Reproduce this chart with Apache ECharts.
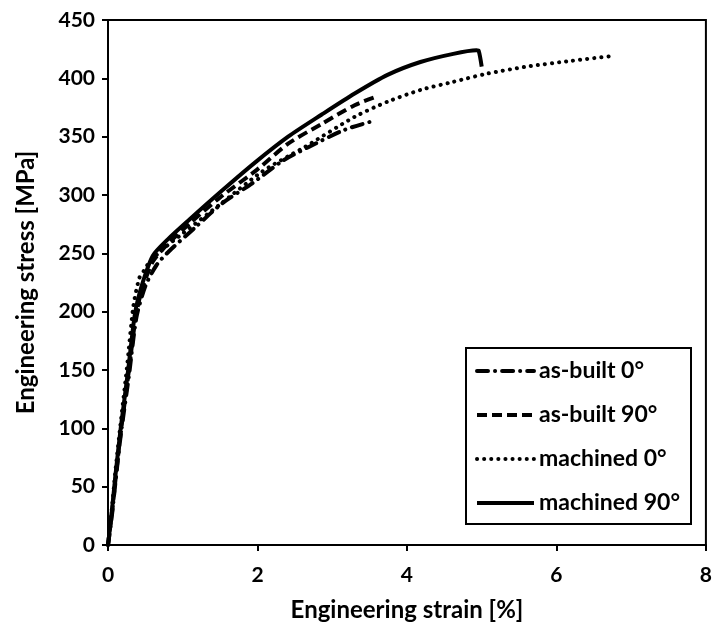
<!DOCTYPE html>
<html>
<head>
<meta charset="utf-8">
<script src="https://cdn.jsdelivr.net/npm/echarts@6/dist/echarts.min.js"></script>
<style>
html, body { margin: 0; background: #fff; }
#main { width: 715px; height: 628px; }
</style>
</head>
<body>
<div id="main"></div>
<script>
// strain in %, stress in MPa
const asBuilt0Strain = [0, 0.05, 0.1, 0.17, 0.28, 0.38, 0.5, 0.65, 0.82, 1.18, 1.53, 1.93, 2.33, 2.68, 3.17, 3.58];
const asBuilt0Stress = [0, 24, 54, 94, 145, 195, 222, 240, 252, 273, 293, 310, 329, 341, 356, 364];

const asBuilt90Strain = [0, 0.05, 0.1, 0.17, 0.27, 0.37, 0.45, 0.6, 0.8, 1.1, 1.5, 2.0, 2.41, 2.86, 3.3, 3.58];
const asBuilt90Stress = [0, 26, 56, 96, 145, 195, 218, 243, 258, 276, 298, 322, 344, 361, 377, 384];

const machined0Strain = [0, 0.05, 0.1, 0.17, 0.25, 0.34, 0.42, 0.49, 0.56, 0.78, 1.0, 1.5, 2.06, 2.46, 2.63, 3.3, 3.74, 4.18, 4.62, 5.07, 5.6, 6.2, 6.73];
const machined0Stress = [0, 30, 64, 105, 150, 205, 229, 236, 243, 256, 267, 292, 320, 335, 341, 367, 380, 390, 397, 404, 410, 415, 419];

const machined90Strain = [0, 0.05, 0.1, 0.17, 0.27, 0.36, 0.45, 0.6, 0.8, 1.09, 1.53, 1.97, 2.41, 2.86, 3.3, 3.74, 4.18, 4.62, 4.93, 4.96, 5.0];
const machined90Stress = [0, 28, 60, 100, 150, 198, 222, 248, 262, 279, 304, 328, 350, 369, 387, 403, 414, 421, 424, 423.5, 410];

const seriesNames = ['as-built 0°', 'as-built 90°', 'machined 0°', 'machined 90°'];

const FONT = 'Lato';
const pairs = (xs, ys) => xs.map((x, i) => [x, ys[i]]);

const chart = echarts.init(document.getElementById('main'));

const tickText = { color: '#000', fontFamily: FONT, fontWeight: 'bold', fontSize: 21 };
const nameText = { color: '#000', fontFamily: FONT, fontWeight: 'bold', fontSize: 24 };

// common bits for the four curves
const curve = (name, xs, ys, lineStyle) => ({
  name: name,
  type: 'line',
  symbol: 'none',
  smooth: 0.25,
  data: pairs(xs, ys),
  lineStyle: Object.assign({ color: '#000', width: 4 }, lineStyle),
  itemStyle: { color: '#000' },
});

const option = {
  animation: false,
  backgroundColor: '#fff',
  grid: {
    left: 108, right: 4, top: 20, bottom: 83,
    show: true, borderColor: '#000', borderWidth: 2,
  },
  xAxis: {
    type: 'value',
    min: 0, max: 8, interval: 2,
    name: 'Engineering strain [%]',
    nameLocation: 'middle',
    nameGap: 53,
    nameTextStyle: nameText,
    axisLine: { lineStyle: { color: '#000', width: 2 } },
    axisTick: { show: true, length: 6, lineStyle: { color: '#000', width: 2 } },
    axisLabel: Object.assign({ margin: 20 }, tickText),
    splitLine: { show: false },
  },
  yAxis: {
    type: 'value',
    min: 0, max: 450, interval: 50,
    name: 'Engineering stress [MPa]',
    nameLocation: 'middle',
    nameGap: 70,
    nameTextStyle: nameText,
    axisLine: { show: true, lineStyle: { color: '#000', width: 2 } },
    axisTick: { show: true, length: 6, lineStyle: { color: '#000', width: 2 } },
    axisLabel: Object.assign({ margin: 13 }, tickText),
    splitLine: { show: false },
  },
  graphic: [{
    type: 'rect',
    z: 3,
    shape: { x: 466, y: 348, width: 225, height: 176 },
    style: { fill: '#fff', stroke: '#000', lineWidth: 2 },
  }],
  legend: {
    z: 5,
    orient: 'vertical',
    left: 466, top: 348,
    padding: [10, 8, 10, 9],
    itemWidth: 57, itemHeight: 14, itemGap: 18,
    itemStyle: { color: 'rgba(0,0,0,0)', opacity: 0, borderWidth: 0 },
    lineStyle: { width: 4 },
    textStyle: { color: '#000', fontFamily: FONT, fontWeight: 'bold', fontSize: 23, lineHeight: 26 },
    data: seriesNames,
  },
  series: [
    curve(seriesNames[0], asBuilt0Strain, asBuilt0Stress, { type: [11, 7, 0.1, 7], cap: 'round' }),
    curve(seriesNames[1], asBuilt90Strain, asBuilt90Stress, { type: [10, 5] }),
    curve(seriesNames[2], machined0Strain, machined0Stress, { type: [0.1, 7], cap: 'round' }),
    curve(seriesNames[3], machined90Strain, machined90Stress, { type: 'solid' }),
  ],
};

chart.setOption(option);
</script>
</body>
</html>
